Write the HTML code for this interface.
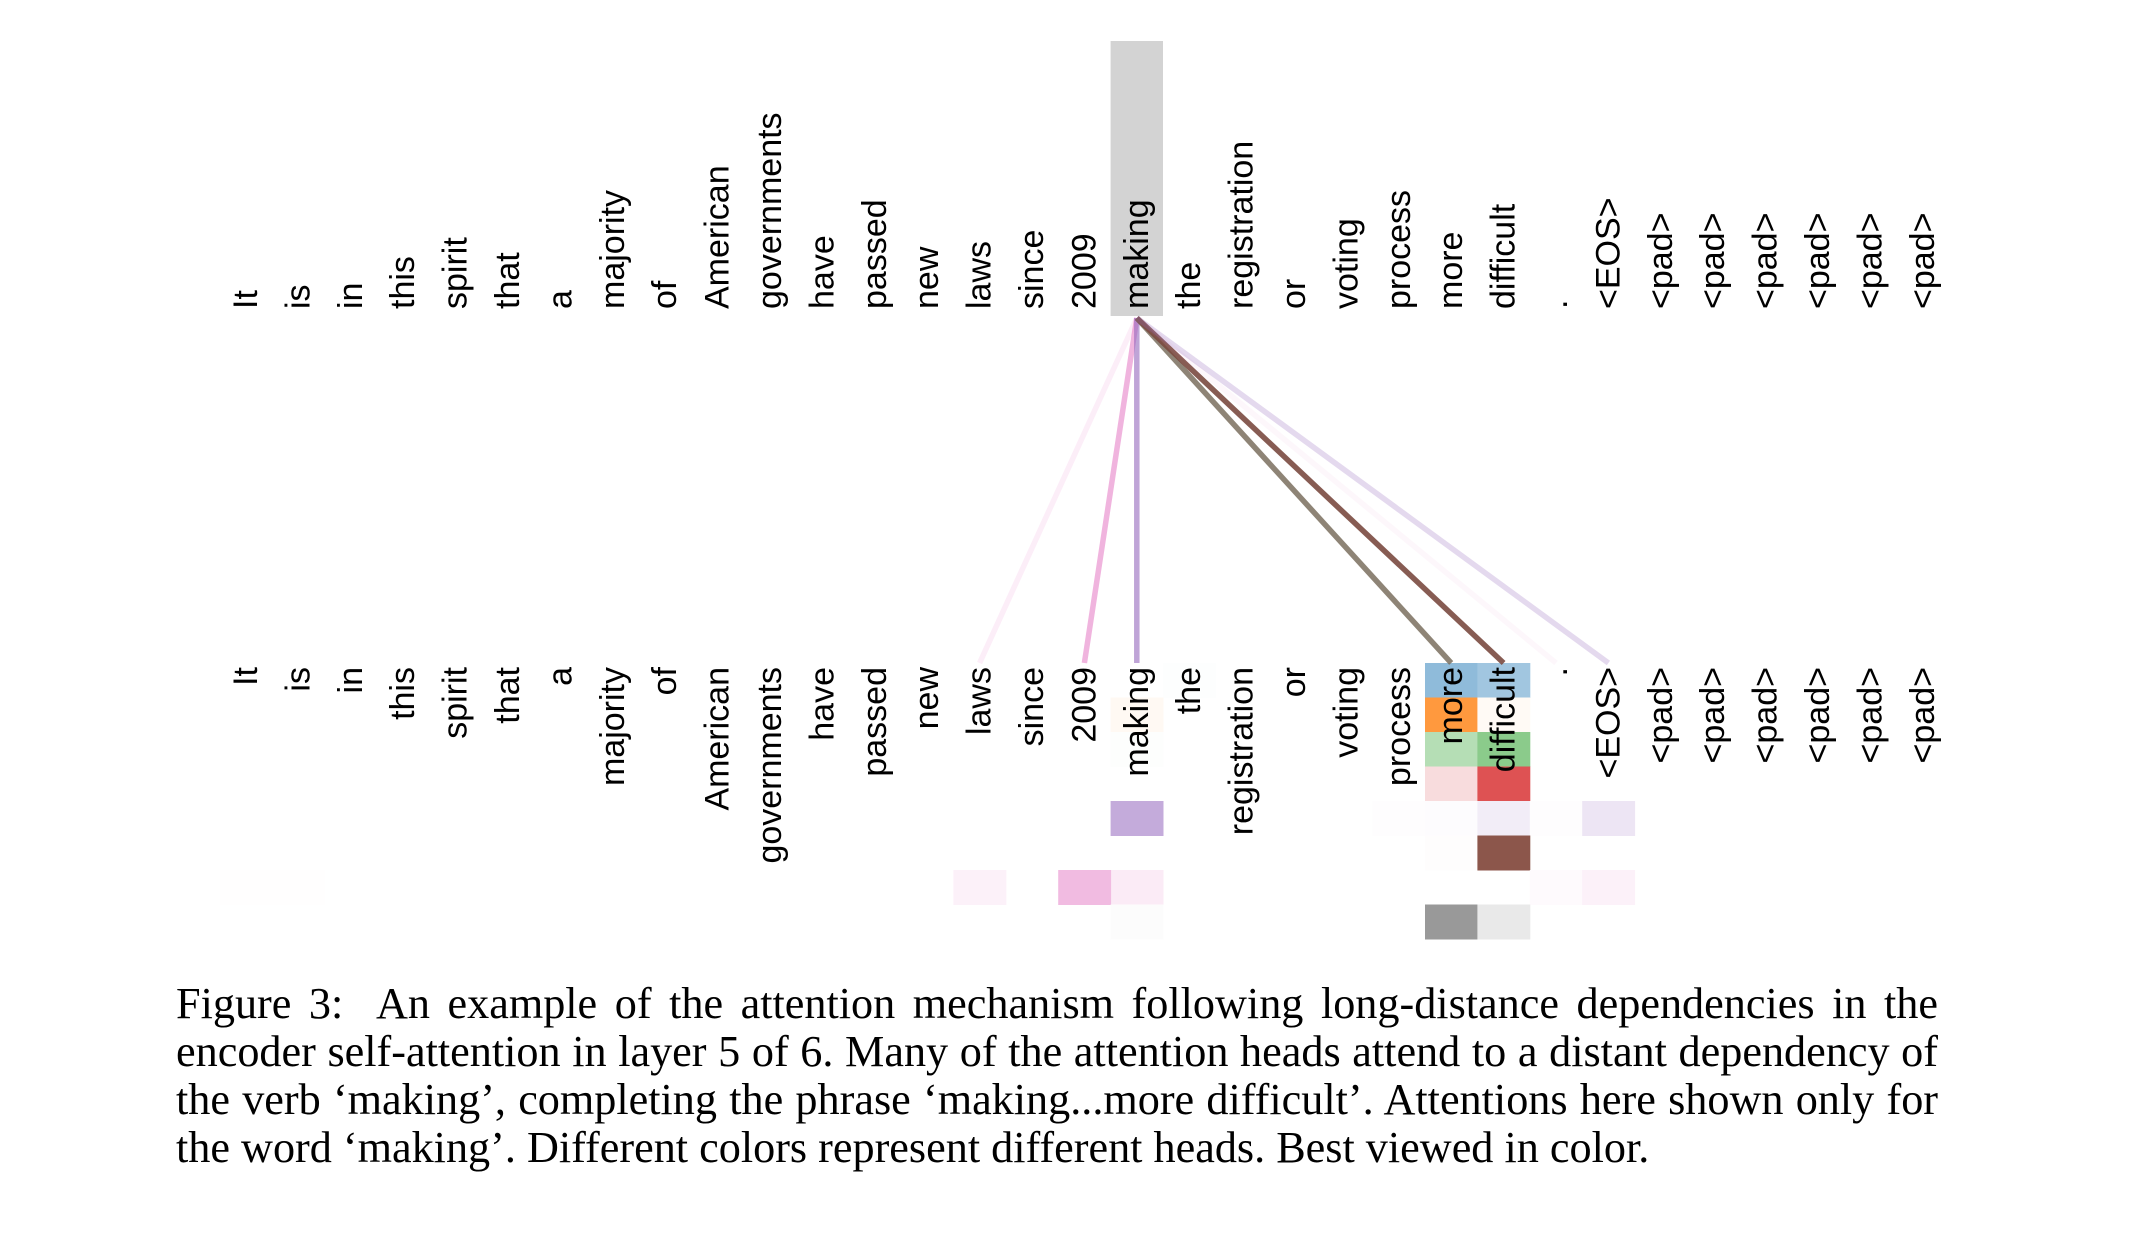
<!DOCTYPE html>
<html><head><meta charset="utf-8"><style>
html,body{margin:0;padding:0;background:#fff;}
body{width:2134px;height:1242px;overflow:hidden;position:relative;}
#cap{position:absolute;left:176px;top:980px;width:1762px;font-family:"Liberation Serif",serif;font-size:44.2px;line-height:48px;color:#000;}
#cap div{text-align:justify;text-align-last:justify;white-space:nowrap;}
#cap div.last{text-align-last:left;}
</style></head><body>
<svg id="chart" width="2134" height="980" style="position:absolute;left:0;top:0" xmlns="http://www.w3.org/2000/svg"></svg>
<div id="cap">
<div>Figure 3:&nbsp; An example of the attention mechanism following long-distance dependencies in the</div>
<div>encoder self-attention in layer 5 of 6. Many of the attention heads attend to a distant dependency of</div>
<div>the verb ‘making’, completing the phrase ‘making...more difficult’. Attentions here shown only for</div>
<div class="last">the word ‘making’. Different colors represent different heads. Best viewed in color.</div>
</div>
<script>
const tokens = ["It","is","in","this","spirit","that","a","majority","of","American","governments","have","passed","new","laws","since","2009","making","the","registration","or","voting","process","more","difficult",".","<EOS>","<pad>","<pad>","<pad>","<pad>","<pad>","<pad>"];
const headColors = ["#1f77b4","#ff7f0e","#2ca02c","#d62728","#9467bd","#8c564b","#e377c2","#7f7f7f"];
const focusIndex = 17;
// sparse weights per head: [tokenIndex, weight]
const head0 = [[18,0.01],[23,0.5],[24,0.42]];
const head1 = [[17,0.05],[23,0.8],[24,0.04]];
const head2 = [[17,0.01],[23,0.35],[24,0.55]];
const head3 = [[23,0.16],[24,0.8]];
const head4 = [[17,0.55],[22,0.01],[23,0.02],[24,0.12],[25,0.01],[26,0.17]];
const head5 = [[23,0.01],[24,1.0]];
const head6 = [[0,0.01],[1,0.01],[14,0.1],[17,0.15],[16,0.5],[25,0.04],[26,0.1]];
const head7 = [[17,0.02],[23,0.8],[24,0.17]];
const heads = [head0,head1,head2,head3,head4,head5,head6,head7];
const lineTargets = [14,16,17,23,24,25,26];
const lineColors = ["#e377c2","#e377c2","#9467bd","#7a6e5e","#7a4a40","#e377c2","#9467bd"];
const lineWeights = [0.12,0.55,0.6,0.85,0.9,0.06,0.25];

const svg = document.getElementById('chart');
const NS = "http://www.w3.org/2000/svg";
const colX = i => 246 + 52.4*i;
const colW = 52.4;
const rowY = r => 663 + 34.5*r;
const rowH = 34.5;
function mix(hex,w){const n=parseInt(hex.slice(1),16);const c=[n>>16,(n>>8)&255,n&255].map(v=>Math.round(255-(255-v)*w));return `rgb(${c[0]},${c[1]},${c[2]})`;}
function mk(tag,attrs){const e=document.createElementNS(NS,tag);for(const k in attrs)e.setAttribute(k,attrs[k]);svg.appendChild(e);return e;}

const hl = mk('rect',{x:colX(focusIndex)-colW/2,y:41,width:colW,height:275,fill:'#d3d3d3'});



heads.forEach((h,r)=>{h.forEach(([i,w])=>{
  const c = mk('rect',{x:colX(i)-colW/2,y:rowY(r),width:colW+0.5,height:rowH+0.5,fill:mix(headColors[r],w)});
  
  
});});

lineTargets.forEach((t,k)=>{
  const l = mk('line',{x1:colX(focusIndex),y1:318,x2:colX(t),y2:663,stroke:lineColors[k],'stroke-opacity':lineWeights[k],'stroke-width':5.5});
  
  
});

tokens.forEach((tk,i)=>{
  const x = colX(i)+11;
  const t1 = mk('text',{x:0,y:0,transform:`translate(${x},309) rotate(-90)`,'font-family':'Liberation Sans, sans-serif','font-size':34,'text-anchor':'start',fill:'#000'});
  t1.textContent = tk;
  
  
  const t2 = mk('text',{x:0,y:0,transform:`translate(${x},667) rotate(-90)`,'font-family':'Liberation Sans, sans-serif','font-size':34,'text-anchor':'end',fill:'#000'});
  t2.textContent = tk;
  
  
});
</script>
</body></html>
